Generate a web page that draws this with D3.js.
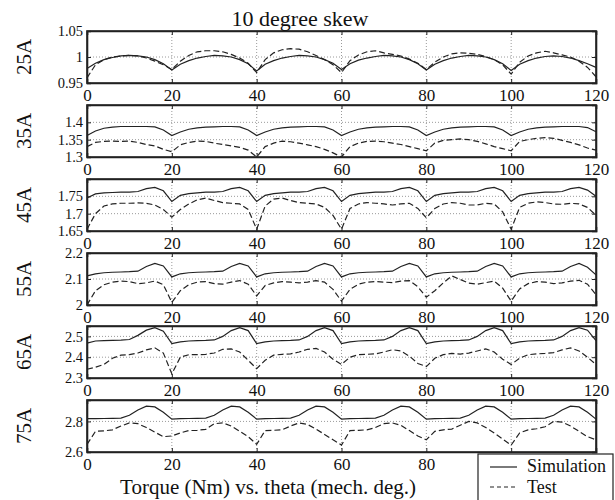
<html>

<head>
    <script src="https://d3js.org/d3.v7.min.js"></script>
    <style>
        body { margin: 0; background: #fff; }
        text { font-family: "Liberation Serif", "Times New Roman", serif; fill: #111; }
    </style>
</head>

<body>
    <svg id="torque_svg" height="500" width="615"></svg>
    <script>
        // sample angles (mech. deg.), every 2 degrees
        const theta = d3.range(0, 121, 2);

        const panelNames = ["25A", "35A", "45A", "55A", "65A", "75A"];
        const yDomains = [[0.95, 1.05], [1.3, 1.45], [1.65, 1.8], [2, 2.2], [2.3, 2.55], [2.6, 2.94]];
        const yTicks = [[0.95, 1, 1.05], [1.3, 1.35, 1.4], [1.65, 1.7, 1.75], [2, 2.1, 2.2], [2.3, 2.4, 2.5], [2.6, 2.8]];
        const xTicks = [0, 20, 40, 60, 80, 100, 120];

        const sim25 = [
            0.978, 0.988, 0.995, 0.999, 1.002, 1.003, 1.002, 1.000, 0.995, 0.987, 0.975,
            0.986, 0.993, 0.998, 1.001, 1.003, 1.002, 1.000, 0.995, 0.987, 0.973,
            0.986, 0.993, 0.998, 1.001, 1.003, 1.002, 1.000, 0.995, 0.988, 0.976,
            0.987, 0.994, 0.998, 1.001, 1.003, 1.002, 1.000, 0.995, 0.987, 0.975,
            0.986, 0.993, 0.998, 1.001, 1.003, 1.002, 1.000, 0.995, 0.987, 0.974,
            0.986, 0.993, 0.998, 1.001, 1.002, 1.001, 0.998, 0.993, 0.987, 0.980];
        const test25 = [
            0.960, 0.985, 0.995, 1.000, 1.002, 1.003, 1.002, 0.998, 0.992, 0.985, 0.976,
            0.992, 1.003, 1.010, 1.012, 1.012, 1.010, 1.005, 0.998, 0.988, 0.970,
            0.995, 1.008, 1.014, 1.016, 1.015, 1.010, 1.003, 0.995, 0.985, 0.970,
            0.993, 1.004, 1.010, 1.012, 1.008, 1.005, 1.002, 0.996, 0.988, 0.976,
            0.990, 1.000, 1.006, 1.008, 1.007, 1.005, 1.001, 0.995, 0.985, 0.967,
            0.990, 1.002, 1.008, 1.011, 1.008, 1.004, 1.000, 0.992, 0.980, 0.962];

        const sim35 = [
            1.362, 1.375, 1.383, 1.386, 1.388, 1.388, 1.388, 1.388, 1.387, 1.378, 1.362,
            1.372, 1.380, 1.384, 1.386, 1.387, 1.388, 1.388, 1.387, 1.378, 1.362,
            1.372, 1.380, 1.384, 1.386, 1.387, 1.388, 1.388, 1.387, 1.378, 1.362,
            1.372, 1.380, 1.384, 1.386, 1.387, 1.388, 1.388, 1.387, 1.378, 1.362,
            1.372, 1.380, 1.384, 1.386, 1.387, 1.388, 1.388, 1.387, 1.378, 1.362,
            1.372, 1.380, 1.384, 1.386, 1.387, 1.388, 1.388, 1.388, 1.385, 1.373];
        const test35 = [
            1.330, 1.342, 1.345, 1.346, 1.345, 1.346, 1.342, 1.336, 1.332, 1.322, 1.315,
            1.335, 1.342, 1.346, 1.345, 1.340, 1.336, 1.332, 1.328, 1.320, 1.300,
            1.330, 1.340, 1.346, 1.344, 1.340, 1.335, 1.330, 1.322, 1.312, 1.300,
            1.330, 1.340, 1.345, 1.346, 1.344, 1.340, 1.336, 1.330, 1.324, 1.318,
            1.340, 1.348, 1.350, 1.352, 1.350, 1.345, 1.338, 1.330, 1.324, 1.318,
            1.345, 1.350, 1.354, 1.356, 1.354, 1.348, 1.342, 1.335, 1.326, 1.320];

        const sim45 = [
            1.745, 1.757, 1.760, 1.761, 1.762, 1.762, 1.764, 1.772, 1.776, 1.766, 1.735,
            1.753, 1.758, 1.760, 1.762, 1.762, 1.764, 1.772, 1.776, 1.766, 1.735,
            1.753, 1.758, 1.760, 1.762, 1.762, 1.764, 1.772, 1.776, 1.766, 1.735,
            1.753, 1.758, 1.760, 1.762, 1.762, 1.764, 1.772, 1.776, 1.766, 1.735,
            1.753, 1.758, 1.760, 1.762, 1.762, 1.764, 1.772, 1.776, 1.766, 1.735,
            1.753, 1.758, 1.760, 1.762, 1.762, 1.764, 1.772, 1.776, 1.768, 1.750];
        const test45 = [
            1.655, 1.700, 1.722, 1.728, 1.730, 1.730, 1.731, 1.730, 1.725, 1.712, 1.690,
            1.712, 1.728, 1.740, 1.745, 1.738, 1.732, 1.730, 1.728, 1.712, 1.655,
            1.722, 1.742, 1.745, 1.738, 1.732, 1.730, 1.728, 1.718, 1.695, 1.655,
            1.715, 1.728, 1.732, 1.730, 1.728, 1.725, 1.728, 1.730, 1.715, 1.688,
            1.715, 1.728, 1.732, 1.730, 1.725, 1.725, 1.730, 1.728, 1.705, 1.655,
            1.718, 1.730, 1.734, 1.732, 1.728, 1.727, 1.730, 1.728, 1.718, 1.695];

        const sim55 = [
            2.112, 2.120, 2.124, 2.126, 2.127, 2.128, 2.130, 2.148, 2.160, 2.150, 2.108,
            2.120, 2.124, 2.126, 2.127, 2.128, 2.130, 2.148, 2.160, 2.150, 2.108,
            2.120, 2.124, 2.126, 2.127, 2.128, 2.130, 2.148, 2.160, 2.150, 2.108,
            2.120, 2.124, 2.126, 2.127, 2.128, 2.130, 2.148, 2.160, 2.150, 2.108,
            2.120, 2.124, 2.126, 2.127, 2.128, 2.130, 2.148, 2.160, 2.150, 2.108,
            2.120, 2.124, 2.126, 2.127, 2.128, 2.130, 2.148, 2.160, 2.145, 2.116];
        const test55 = [
            2.000, 2.055, 2.078, 2.088, 2.092, 2.090, 2.082, 2.085, 2.092, 2.078, 2.010,
            2.055, 2.078, 2.088, 2.090, 2.082, 2.080, 2.088, 2.094, 2.080, 2.035,
            2.075, 2.085, 2.090, 2.088, 2.085, 2.088, 2.094, 2.088, 2.060, 2.015,
            2.060, 2.080, 2.088, 2.090, 2.088, 2.086, 2.092, 2.094, 2.070, 2.030,
            2.055, 2.085, 2.112, 2.098, 2.084, 2.080, 2.086, 2.092, 2.065, 2.015,
            2.062, 2.082, 2.090, 2.088, 2.082, 2.085, 2.092, 2.095, 2.080, 2.040];

        const sim65 = [
            2.468, 2.478, 2.480, 2.481, 2.482, 2.485, 2.505, 2.530, 2.542, 2.525, 2.465,
            2.474, 2.478, 2.480, 2.481, 2.483, 2.500, 2.528, 2.542, 2.528, 2.465,
            2.474, 2.478, 2.480, 2.481, 2.483, 2.500, 2.528, 2.542, 2.528, 2.465,
            2.474, 2.478, 2.480, 2.481, 2.483, 2.500, 2.528, 2.542, 2.528, 2.465,
            2.474, 2.478, 2.480, 2.481, 2.483, 2.500, 2.528, 2.542, 2.528, 2.465,
            2.474, 2.478, 2.480, 2.481, 2.483, 2.500, 2.528, 2.542, 2.530, 2.480];
        const test65 = [
            2.342, 2.352, 2.365, 2.395, 2.410, 2.412, 2.420, 2.435, 2.445, 2.420, 2.320,
            2.400, 2.412, 2.412, 2.414, 2.420, 2.438, 2.440, 2.425, 2.385, 2.345,
            2.385, 2.410, 2.414, 2.416, 2.425, 2.438, 2.442, 2.425, 2.390, 2.365,
            2.400, 2.412, 2.414, 2.416, 2.425, 2.436, 2.430, 2.405, 2.370, 2.355,
            2.395, 2.412, 2.418, 2.415, 2.420, 2.430, 2.440, 2.425, 2.390, 2.365,
            2.395, 2.412, 2.416, 2.418, 2.422, 2.435, 2.445, 2.430, 2.400, 2.365];

        const sim75 = [
            2.818, 2.818, 2.819, 2.820, 2.822, 2.840, 2.875, 2.900, 2.895, 2.860, 2.815,
            2.818, 2.819, 2.820, 2.822, 2.840, 2.875, 2.900, 2.895, 2.860, 2.815,
            2.818, 2.819, 2.820, 2.822, 2.840, 2.875, 2.900, 2.895, 2.860, 2.815,
            2.818, 2.819, 2.820, 2.822, 2.840, 2.875, 2.900, 2.895, 2.860, 2.815,
            2.818, 2.819, 2.820, 2.822, 2.840, 2.875, 2.900, 2.895, 2.860, 2.815,
            2.818, 2.819, 2.820, 2.822, 2.840, 2.875, 2.900, 2.895, 2.860, 2.815];
        const test75 = [
            2.650, 2.735, 2.738, 2.745, 2.770, 2.790, 2.785, 2.760, 2.730, 2.700, 2.705,
            2.725, 2.740, 2.742, 2.748, 2.785, 2.790, 2.770, 2.735, 2.700, 2.650,
            2.740, 2.742, 2.745, 2.770, 2.790, 2.780, 2.750, 2.715, 2.680, 2.645,
            2.740, 2.742, 2.745, 2.760, 2.785, 2.790, 2.775, 2.740, 2.705, 2.680,
            2.735, 2.745, 2.750, 2.775, 2.800, 2.790, 2.760, 2.725, 2.685, 2.645,
            2.725, 2.745, 2.752, 2.765, 2.800, 2.795, 2.770, 2.735, 2.700, 2.680];

        const simSeries = [sim25, sim35, sim45, sim55, sim65, sim75];
        const testSeries = [test25, test35, test45, test55, test65, test75];

        const svg = d3.select("#torque_svg");
        const margins = { "left": 87, "right": 19 };
        const panelTops = [31, 105, 179, 253, 326, 400];
        const panelHeight = 52;
        const chartWidth = 615 - margins.left - margins.right;

        const thetaScale = d3.scaleLinear().domain([0, 120]).range([0, chartWidth]);

        panelNames.forEach((name, p) => {
            let panel = svg.append("g")
                .attr("transform", "translate(" + margins.left + "," + panelTops[p] + ")");

            const yScale = d3.scaleLinear().domain(yDomains[p]).range([panelHeight, 0]);
            const lastPanel = p == panelNames.length - 1;

            // dotted grid inside the panel
            let innerX = xTicks.filter(t => t > 0 && t < 120);
            let innerY = yTicks[p].filter(t => t > yDomains[p][0] && t < yDomains[p][1]);
            panel.selectAll(".vgrid").data(innerX).enter().append("line")
                .attr("x1", d => thetaScale(d)).attr("x2", d => thetaScale(d))
                .attr("y1", 0).attr("y2", panelHeight)
                .attr("stroke", "#9a9a9a").attr("stroke-width", 1)
                .attr("stroke-dasharray", "1,2");
            panel.selectAll(".hgrid").data(innerY).enter().append("line")
                .attr("x1", 0).attr("x2", chartWidth)
                .attr("y1", d => yScale(d)).attr("y2", d => yScale(d))
                .attr("stroke", "#9a9a9a").attr("stroke-width", 1)
                .attr("stroke-dasharray", "1,2");

            let line = d3.line()
                .x((d, i) => thetaScale(theta[i]))
                .y(d => yScale(d));

            panel.append("path")
                .datum(simSeries[p])
                .attr("d", line)
                .attr("fill", "none")
                .attr("stroke", "#222")
                .attr("stroke-width", 1.2);

            panel.append("path")
                .datum(testSeries[p])
                .attr("d", line)
                .attr("fill", "none")
                .attr("stroke", "#222")
                .attr("stroke-width", 1.2)
                .attr("stroke-dasharray", "6,3");

            // axes with inward ticks, labels outside
            let leftAxis = d3.axisLeft(yScale).tickValues(yTicks[p]).tickSize(-4).tickPadding(4).tickFormat(d => String(d));
            let yAxisG = panel.append("g").attr("class", "y axis").call(leftAxis);
            let rightAxis = d3.axisRight(yScale).tickValues(yTicks[p]).tickSize(-4).tickFormat("");
            panel.append("g").attr("transform", "translate(" + chartWidth + ",0)").call(rightAxis);
            // the legend box hides the last two labels of the bottom panel
            let bottomAxis = d3.axisBottom(thetaScale).tickValues(xTicks).tickSize(-4).tickPadding(6)
                .tickFormat(d => (lastPanel && d > 80) ? "" : String(d));
            let xAxisG = panel.append("g").attr("class", "x axis").attr("transform", "translate(0," + panelHeight + ")").call(bottomAxis);
            let topAxis = d3.axisTop(thetaScale).tickValues(xTicks).tickSize(-4).tickFormat("");
            panel.append("g").call(topAxis);

            panel.selectAll(".domain").attr("stroke", "#222").attr("stroke-width", 1.6);
            panel.selectAll(".tick line").attr("stroke", "#222");
            panel.selectAll(".tick text")
                .attr("font-family", "'Liberation Serif', 'Times New Roman', serif")
                .attr("fill", "#111");
            xAxisG.selectAll(".tick text").attr("font-size", 17);
            yAxisG.selectAll(".tick text").attr("font-size", 14.5);

            panel.append("rect")
                .attr("width", chartWidth).attr("height", panelHeight)
                .attr("fill", "none").attr("stroke", "#222").attr("stroke-width", 1.6);

            svg.append("text")
                .attr("transform", "translate(31," + (panelTops[p] + panelHeight / 2) + ") rotate(-90)")
                .attr("text-anchor", "middle")
                .attr("font-size", 21)
                .text(name);
        });

        svg.append("text")
            .attr("x", 300).attr("y", 26)
            .attr("text-anchor", "middle")
            .attr("font-size", 22)
            .text("10 degree skew");

        svg.append("text")
            .attr("x", 268).attr("y", 494)
            .attr("text-anchor", "middle")
            .attr("font-size", 21)
            .text("Torque (Nm) vs. theta (mech. deg.)");

        // legend
        let legend = svg.append("g").attr("transform", "translate(478,454)");
        legend.append("rect")
            .attr("width", 135).attr("height", 50)
            .attr("fill", "#fff").attr("stroke", "#222").attr("stroke-width", 1.2);
        legend.append("line").attr("x1", 12).attr("x2", 39).attr("y1", 13).attr("y2", 13)
            .attr("stroke", "#222").attr("stroke-width", 1.2);
        legend.append("line").attr("x1", 12).attr("x2", 39).attr("y1", 33).attr("y2", 33)
            .attr("stroke", "#222").attr("stroke-width", 1.2).attr("stroke-dasharray", "4,3");
        legend.append("text").attr("x", 49).attr("y", 18).attr("font-size", 18).text("Simulation");
        legend.append("text").attr("x", 49).attr("y", 39).attr("font-size", 18).text("Test");
    </script>

</body>

</html>
